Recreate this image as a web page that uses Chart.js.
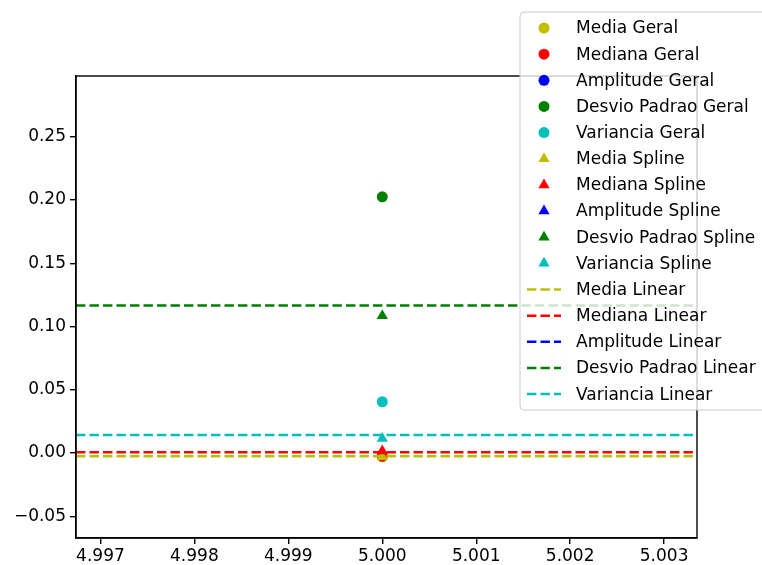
<!DOCTYPE html>
<html>
<head>
<meta charset="utf-8">
<script src="https://cdn.jsdelivr.net/npm/chart.js@4"></script>
<style>
  html, body { margin: 0; padding: 0; background: #fff; }
</style>
</head>
<body>
<canvas id="statsChart" width="762" height="565"></canvas>
<script>
// ---- data ----
const seriesNames = ["Media", "Mediana", "Amplitude", "Desvio Padrao", "Variancia"];
const seriesColors = ["#bfbf00", "#ff0000", "#0000ff", "#008000", "#00bfbf"];
const xPoint = 5.000;
// amplitude has no visible value (NaN in the source)
const geralValues  = [-0.003, -0.0025, null, 0.2025, 0.0405];
const splineValues = [-0.003, 0.0015, null, 0.1084, 0.0115];
const linearValues = [-0.0025, 0.0005, null, 0.1165, 0.0142];

const xMin = 4.99674, xMax = 5.00335;
const yMin = -0.0672, yMax = 0.298;
const xTicks = [4.997, 4.998, 4.999, 5.000, 5.001, 5.002, 5.003];
const yTicks = [-0.05, 0, 0.05, 0.10, 0.15, 0.20, 0.25];

const FONT = "'DejaVu Sans', sans-serif";

// ---- datasets ----
const datasets = [];
seriesNames.forEach((name, i) => {
    datasets.push({
        label: name + " Geral",
        data: geralValues[i] === null ? [] : [{ x: xPoint, y: geralValues[i] }],
        pointStyle: "circle",
        pointRadius: 5.5,
        backgroundColor: seriesColors[i],
        borderWidth: 0
    });
});
seriesNames.forEach((name, i) => {
    datasets.push({
        label: name + " Spline",
        data: splineValues[i] === null ? [] : [{ x: xPoint, y: splineValues[i] }],
        pointStyle: "triangle",
        pointRadius: 6.5,
        backgroundColor: seriesColors[i],
        borderWidth: 0
    });
});
seriesNames.forEach((name, i) => {
    datasets.push({
        label: name + " Linear",
        data: linearValues[i] === null ? [] : [{ x: xMin, y: linearValues[i] }, { x: xMax, y: linearValues[i] }],
        showLine: true,
        pointRadius: 0,
        borderColor: seriesColors[i],
        borderWidth: 2.5,
        borderDash: [9.4, 4.1]
    });
});
// later datasets on top, like matplotlib
datasets.forEach((d, i) => { d.order = datasets.length - i; });

// box + legend drawn by hand (legend sits outside the axes, top right)
const frameAndLegend = {
    id: "frameAndLegend",
    afterDraw(chart) {
        const ctx = chart.ctx;
        const a = chart.chartArea;
        ctx.save();
        ctx.strokeStyle = "#000";
        ctx.lineWidth = 1.4;
        ctx.strokeRect(a.left, a.top, a.right - a.left, a.bottom - a.top);

        // legend frame
        const bx = 520, by = 12, bw = 252, bh = 398;
        ctx.beginPath();
        ctx.roundRect(bx, by, bw, bh, 4);
        ctx.fillStyle = "rgba(255,255,255,0.8)";
        ctx.fill();
        ctx.strokeStyle = "#cccccc";
        ctx.lineWidth = 1;
        ctx.stroke();

        ctx.font = "17px " + FONT;
        ctx.textBaseline = "middle";
        chart.data.datasets.forEach((d, i) => {
            const y = 28 + i * 26.15;
            if (d.showLine) {
                ctx.beginPath();
                ctx.setLineDash(d.borderDash);
                ctx.strokeStyle = d.borderColor;
                ctx.lineWidth = d.borderWidth;
                ctx.moveTo(527, y);
                ctx.lineTo(561, y);
                ctx.stroke();
                ctx.setLineDash([]);
            } else {
                ctx.fillStyle = d.backgroundColor;
                Chart.helpers.drawPoint(ctx, { pointStyle: d.pointStyle, radius: d.pointRadius, rotation: 0, borderWidth: 0 }, 544, y);
            }
            ctx.fillStyle = "#000";
            ctx.fillText(d.label, 576, y + 1);
        });
        ctx.restore();
    }
};

new Chart(document.getElementById("statsChart"), {
    type: "scatter",
    data: { datasets: datasets },
    options: {
        responsive: false,
        animation: false,
        devicePixelRatio: 1,
        layout: { padding: { top: 76, right: 65, left: 0, bottom: 0 } },
        plugins: {
            legend: { display: false },
            tooltip: { enabled: false }
        },
        scales: {
            x: {
                type: "linear",
                min: xMin,
                max: xMax,
                afterBuildTicks: s => { s.ticks = xTicks.map(v => ({ value: v })); },
                afterFit: s => { s.height = 27; },
                ticks: {
                    color: "#000",
                    padding: 2,
                    maxRotation: 0,
                    font: { family: FONT, size: 17 },
                    callback: v => v.toFixed(3)
                },
                grid: { drawOnChartArea: false, drawTicks: true, tickLength: 6, color: "#000", lineWidth: 1.4 },
                border: { color: "#000", width: 1.4 }
            },
            y: {
                type: "linear",
                min: yMin,
                max: yMax,
                afterBuildTicks: s => { s.ticks = yTicks.map(v => ({ value: v })); },
                afterFit: s => { s.width = 76; },
                ticks: {
                    color: "#000",
                    padding: 4,
                    font: { family: FONT, size: 17 },
                    callback: v => (v < -1e-9 ? "\u2212" : "") + Math.abs(v).toFixed(2)
                },
                grid: { drawOnChartArea: false, drawTicks: true, tickLength: 6, color: "#000", lineWidth: 1.4 },
                border: { color: "#000", width: 1.4 }
            }
        }
    },
    plugins: [frameAndLegend]
});
</script>
</body>
</html>
